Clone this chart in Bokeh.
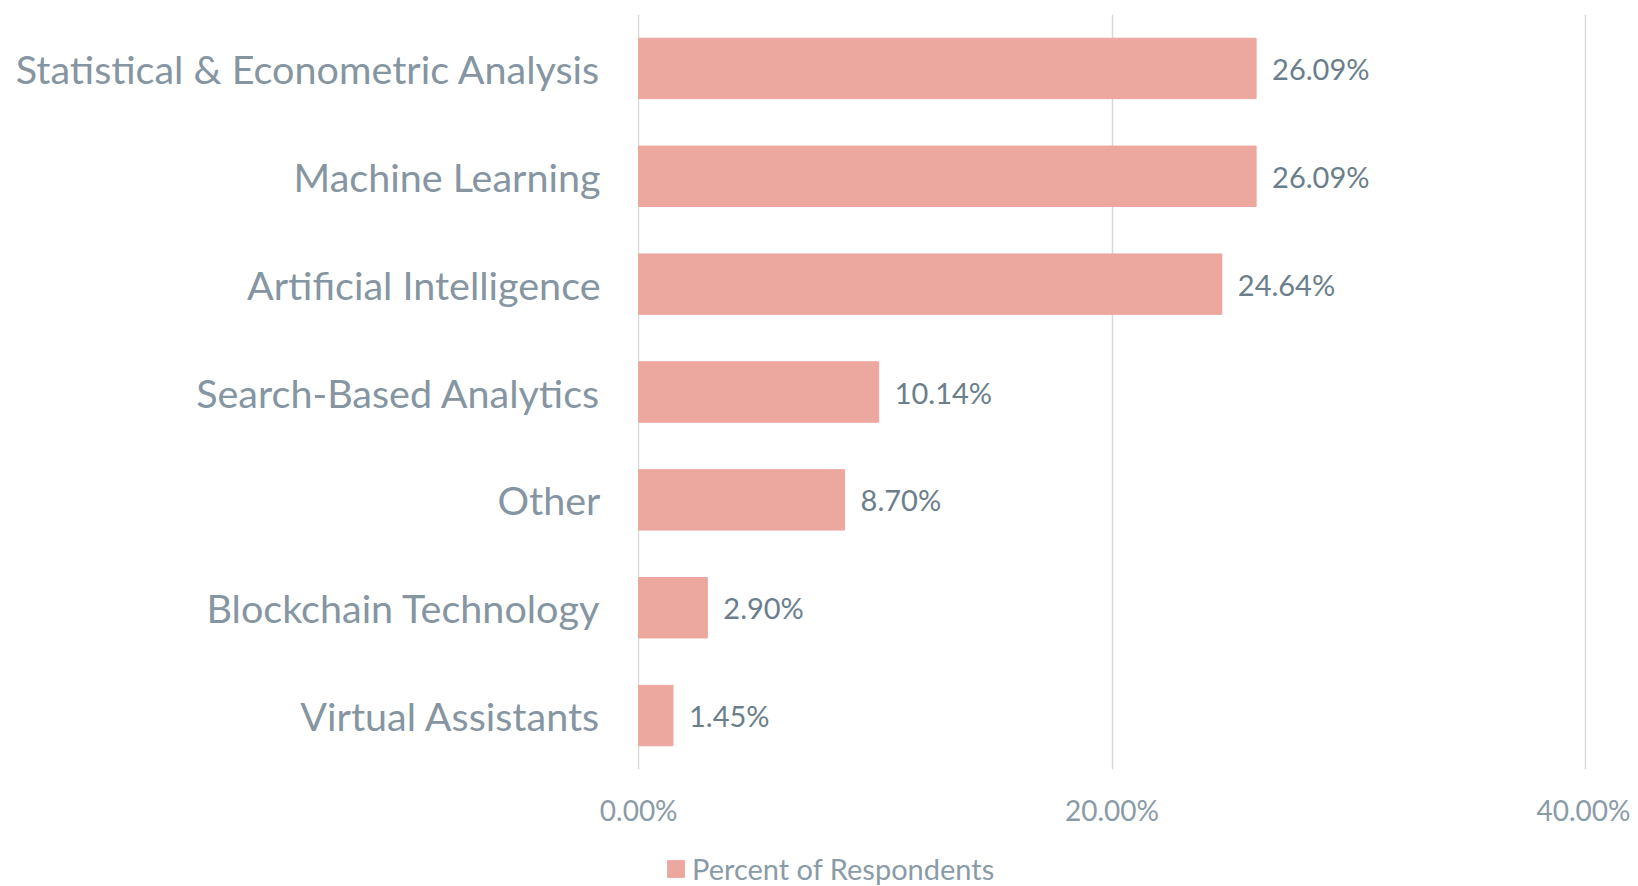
from bokeh.plotting import figure
from bokeh.layouts import column
from bokeh.models import ColumnDataSource, FactorRange, FixedTicker, PrintfTickFormatter, Legend, LegendItem, Range1d
from bokeh.core.properties import value
from bokeh.embed import file_html
from bokeh.resources import INLINE

categories = ["Statistical & Econometric Analysis", "Machine Learning", "Artificial Intelligence",
              "Search-Based Analytics", "Other", "Blockchain Technology", "Virtual Assistants"]
percents = [26.09, 26.09, 24.64, 10.14, 8.70, 2.90, 1.45]
x_ticks = [0, 20, 40]
series_name = "Percent of Respondents"

labels = [f"{v:.2f}%" for v in percents]
src = ColumnDataSource(dict(cat=categories, val=percents, lab=labels))

FONT = "Lato"
BAR = "#eca79e"
p = figure(width=1630, height=830, output_backend="svg", toolbar_location=None,
           y_range=FactorRange(factors=categories[::-1]), x_range=Range1d(-0.05, 40.05),
           min_border_left=637, min_border_right=44, min_border_top=14, min_border_bottom=61)
p.outline_line_color = None
p.background_fill_color = "white"

r = p.hbar(y="cat", right="val", left=0, height=0.56, source=src,
           fill_color=BAR, line_color=BAR, line_width=1)

p.text(x="val", y="cat", text="lab", source=src, x_offset=16, text_baseline="middle",
       text_align="left", text_font=value(FONT), text_font_size="29px", text_color="#6a7e8b")

p.xaxis.ticker = FixedTicker(ticks=x_ticks)
p.xaxis.formatter = PrintfTickFormatter(format="%.2f%%")
p.xaxis.axis_line_color = None
p.xaxis.major_tick_line_color = None
p.xaxis.minor_tick_line_color = None
p.xaxis.major_label_text_font = FONT
p.xaxis.major_label_text_font_size = "28px"
p.xaxis.major_label_text_color = "#8a9ba8"
p.xaxis.major_label_standoff = 17

p.yaxis.axis_line_color = None
p.yaxis.major_tick_line_color = None
p.yaxis.minor_tick_line_color = None
p.yaxis.major_label_text_font = FONT
p.yaxis.major_label_text_font_size = "39.5px"
p.yaxis.major_label_text_color = "#8595a2"
p.yaxis.major_label_standoff = 31

p.xgrid.ticker = FixedTicker(ticks=x_ticks)
p.xgrid.grid_line_color = "#d9d9d9"
p.xgrid.grid_line_width = 1.5
p.ygrid.grid_line_color = None

# legend strip below the chart
q = figure(width=1630, height=56, output_backend="svg", toolbar_location=None,
           x_axis_type=None, y_axis_type=None, min_border=0,
           y_range=FactorRange(factors=categories[::-1]))
q.outline_line_color = None
q.xgrid.grid_line_color = None
q.ygrid.grid_line_color = None
rq = q.hbar(y="cat", right="val", left=0, height=0.56, source=src,
            fill_color=BAR, line_color=BAR, line_width=1, visible=False)
legend = Legend(items=[LegendItem(label=series_name, renderers=[rq])],
                location=(28, 0), orientation="horizontal",
                glyph_width=21, glyph_height=21, label_standoff=6,
                label_text_font=FONT, label_text_font_size="29px", label_text_color="#8a9ba8",
                border_line_color=None, background_fill_alpha=0, padding=0, margin=0,
                inactive_fill_alpha=0)
q.add_layout(legend, "center")

layout = column(p, q, spacing=0)
open("out.html", "w").write(file_html(layout, INLINE))
